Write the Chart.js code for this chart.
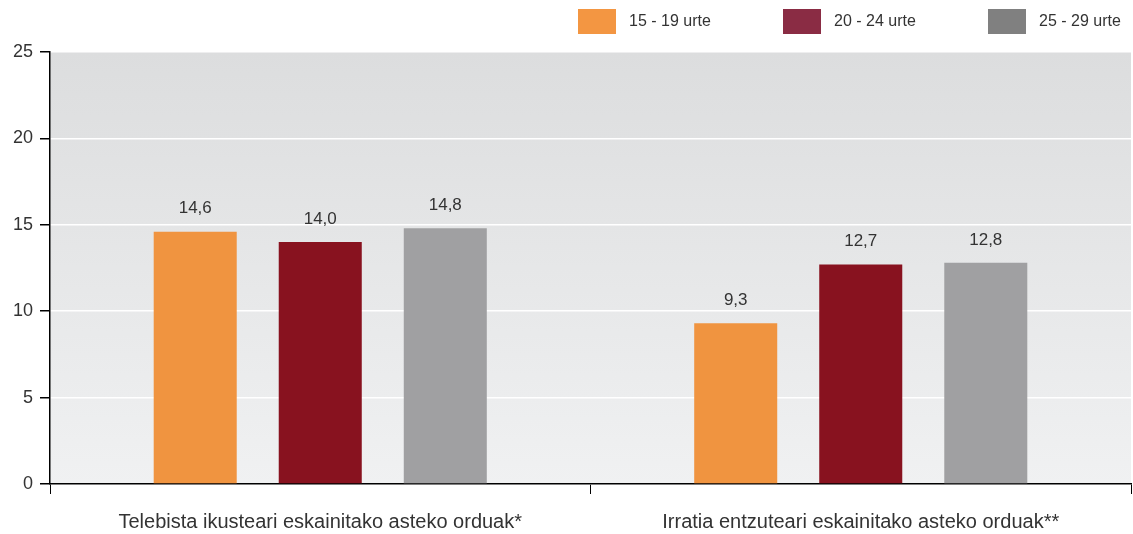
<!DOCTYPE html>
<html>
<head>
<meta charset="utf-8">
<script src="https://cdn.jsdelivr.net/npm/chart.js@4.4.0/dist/chart.umd.min.js"></script>
<style>
  html, body { margin: 0; padding: 0; background: #fff; }
  #wrap { position: relative; width: 1133px; height: 534px; }
  #legend { position: absolute; left: 578px; top: 8px; display: flex; }
  .item { width: 205px; display: flex; align-items: center; height: 26px;
          font: 16px 'Liberation Sans', Arial, sans-serif; color: #333; }
  .box { width: 38px; height: 25px; margin-right: 13px; }
</style>
</head>
<body>
<div id="wrap">
  <div id="legend"></div>
  <canvas id="myChart"></canvas>
</div>
<script>
// data
const categories = [
  "Telebista ikusteari eskainitako asteko orduak*",
  "Irratia entzuteari eskainitako asteko orduak**"
];
const seriesNames = ["15 - 19 urte", "20 - 24 urte", "25 - 29 urte"];
const age15_19 = [14.6, 9.3];
const age20_24 = [14.0, 12.7];
const age25_29 = [14.8, 12.8];
const yTicks = [0, 5, 10, 15, 20, 25];

const barColors = ["#f09440", "#88121f", "#a0a0a2"];
const legendColors = ["#f39642", "#8a2c44", "#808080"];
const fontFamily = "'Liberation Sans', Arial, sans-serif";

// legend as html
document.getElementById("legend").innerHTML = seriesNames
  .map((name, i) => `<div class="item"><div class="box" style="background:${legendColors[i]}"></div>${name}</div>`)
  .join("");

// grey gradient behind the plot
const plotBackground = {
  id: "plotBackground",
  beforeDraw(chart) {
    const { ctx, chartArea: a } = chart;
    const g = ctx.createLinearGradient(0, a.top, 0, a.bottom);
    g.addColorStop(0, "#dcddde");
    g.addColorStop(1, "#f0f1f2");
    ctx.save();
    ctx.fillStyle = g;
    ctx.fillRect(a.left, a.top, a.right - a.left, a.bottom - a.top);
    ctx.restore();
  }
};

// value labels above bars
const valueLabels = {
  id: "valueLabels",
  afterDatasetsDraw(chart) {
    const ctx = chart.ctx;
    ctx.save();
    ctx.font = "17px " + fontFamily;
    ctx.fillStyle = "#333";
    ctx.textAlign = "center";
    ctx.textBaseline = "middle";
    chart.data.datasets.forEach((ds, i) => {
      chart.getDatasetMeta(i).data.forEach((bar, j) => {
        ctx.fillText(ds.data[j].toFixed(1).replace(".", ","), bar.x, bar.y - 23);
      });
    });
    ctx.restore();
  }
};

const data = {
  labels: categories,
  datasets: [
    { label: seriesNames[0], data: age15_19, backgroundColor: barColors[0] },
    { label: seriesNames[1], data: age20_24, backgroundColor: barColors[1] },
    { label: seriesNames[2], data: age25_29, backgroundColor: barColors[2] }
  ]
};

const config = {
  type: "bar",
  data: data,
  options: {
    responsive: true,
    maintainAspectRatio: false,
    animation: false,
    categoryPercentage: 0.694,
    barPercentage: 0.664,
    layout: { padding: { left: 0, right: 2, top: 52, bottom: 0 } },
    plugins: {
      tooltip: { enabled: false },
      legend: { display: false }
    },
    scales: {
      x: {
        afterFit(scale) { scale.height = 50; },
        grid: {
          display: true,
          drawOnChartArea: false,
          tickLength: 10,
          tickColor: "#000",
          offset: true
        },
        border: { color: "#000", width: 1.5 },
        ticks: {
          color: "#333",
          padding: 16,
          font: { family: fontFamily, size: 20 }
        }
      },
      y: {
        min: 0,
        max: 25,
        afterFit(scale) { scale.width = 50; },
        afterBuildTicks(axis) {
          axis.ticks = yTicks.map(v => ({ value: v }));
        },
        grid: {
          color: "#ffffff",
          lineWidth: 1.5,
          tickLength: 10,
          tickColor: "#000"
        },
        border: { color: "#000", width: 1.5 },
        ticks: {
          color: "#333",
          padding: 7,
          font: { family: fontFamily, size: 18 }
        }
      }
    }
  },
  plugins: [plotBackground, valueLabels]
};

let myChart = new Chart(document.getElementById("myChart"), config);
</script>
</body>
</html>
